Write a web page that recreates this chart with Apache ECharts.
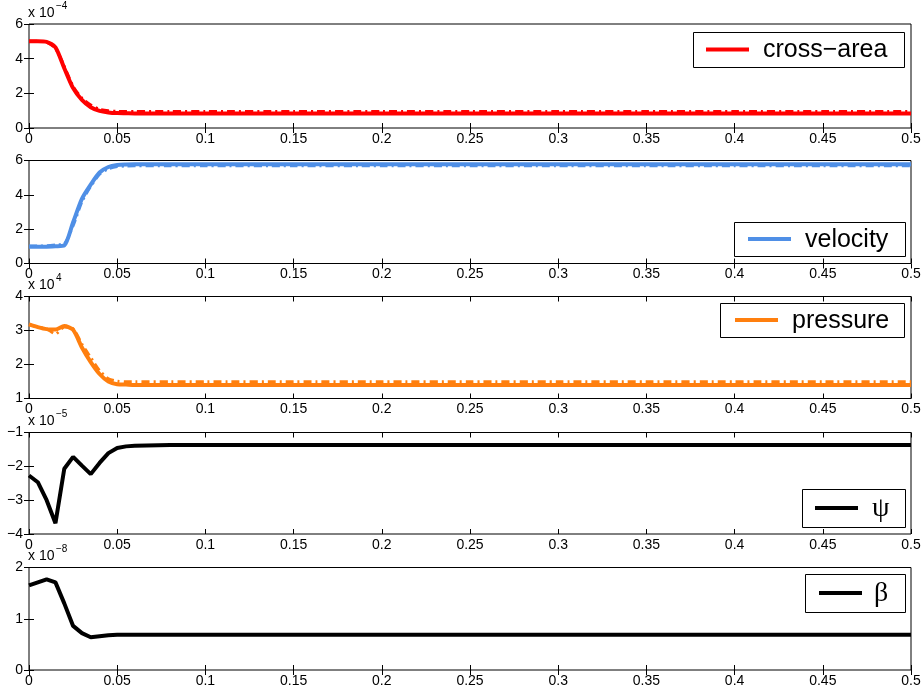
<!DOCTYPE html>
<html>
<head>
<meta charset="utf-8">
<script src="https://cdn.jsdelivr.net/npm/echarts@6/dist/echarts.min.js"></script>
<style>html,body{margin:0;padding:0;background:#fff}#c{width:924px;height:693px}</style>
</head>
<body>
<div id="c"></div>
<script>
// time samples (s)
var time = [0, 0.005, 0.01, 0.015, 0.02, 0.025, 0.03, 0.035, 0.04, 0.045, 0.05, 0.055, 0.06, 0.08, 0.1, 0.15, 0.2, 0.25, 0.3, 0.35, 0.4, 0.45, 0.5];
// cross-area (x 1e-4)
var crossArea      = [5.0, 5.0, 4.97, 4.65, 3.45, 2.3, 1.62, 1.2, 0.99, 0.9, 0.86, 0.85, 0.84, 0.84, 0.84, 0.84, 0.84, 0.84, 0.84, 0.84, 0.84, 0.84, 0.84];
var crossAreaRef   = [5.0, 5.0, 4.95, 4.6, 3.55, 2.4, 1.72, 1.32, 1.08, 0.99, 0.96, 0.95, 0.95, 0.95, 0.95, 0.95, 0.95, 0.95, 0.95, 0.95, 0.95, 0.95, 0.95];
// velocity
var velocity       = [0.97, 0.97, 0.98, 1.0, 1.05, 2.4, 3.77, 4.6, 5.3, 5.62, 5.74, 5.77, 5.78, 5.78, 5.78, 5.78, 5.78, 5.78, 5.78, 5.78, 5.78, 5.78, 5.78];
var velocityRef    = [1.02, 1.02, 1.03, 1.08, 1.15, 2.2, 3.6, 4.5, 5.2, 5.52, 5.65, 5.68, 5.69, 5.69, 5.69, 5.69, 5.69, 5.69, 5.69, 5.69, 5.69, 5.69, 5.69];
// pressure (x 1e4)
var pressure       = [3.18, 3.1, 3.04, 3.03, 3.13, 3.02, 2.5, 2.07, 1.72, 1.5, 1.42, 1.41, 1.4, 1.4, 1.4, 1.4, 1.4, 1.4, 1.4, 1.4, 1.4, 1.4, 1.4];
var pressureRef    = [3.18, 3.1, 3.05, 2.9, 3.1, 3.05, 2.6, 2.2, 1.82, 1.58, 1.51, 1.49, 1.49, 1.49, 1.49, 1.49, 1.49, 1.49, 1.49, 1.49, 1.49, 1.49, 1.49];
// psi (x 1e-5)
var psi            = [-2.27, -2.47, -3.0, -3.68, -2.07, -1.72, -1.98, -2.23, -1.9, -1.61, -1.46, -1.41, -1.39, -1.37, -1.37, -1.37, -1.37, -1.37, -1.37, -1.37, -1.37, -1.37, -1.37];
// beta (x 1e-8)
var beta           = [1.65, 1.71, 1.77, 1.71, 1.30, 0.86, 0.72, 0.64, 0.66, 0.68, 0.69, 0.69, 0.69, 0.69, 0.69, 0.69, 0.69, 0.69, 0.69, 0.69, 0.69, 0.69, 0.69];

var names = ['cross\u2212area', 'velocity', 'pressure', '\u03C8', '\u03B2'];
var colors = ['#ff0000', '#4f8fe6', '#ff7f0e', '#000000', '#000000'];
var yMin = [0, 0, 1, -4, 0];
var yMax = [6, 6, 4, -1, 2];
var yInterval = [2, 2, 1, 1, 1];
var exponents = ['\u22124', '', '4', '\u22125', '\u22128'];

var gridTop = [24, 160.5, 296.5, 432.5, 567.5];
var gridH = [104, 103, 102, 101.5, 102.5];

function pairs(ys) { return time.map(function (t, i) { return [t, ys[i]]; }); }

var font = 'Liberation Sans, Arial, Helvetica, sans-serif';
var grids = [], xAxes = [], yAxes = [], series = [], graphics = [];

for (var k = 0; k < 5; k++) {
  grids.push({ left: 29, right: 13, top: gridTop[k], height: gridH[k], show: true, borderColor: '#000', borderWidth: 1, backgroundColor: '#fff', containLabel: false });
  var xBase = {
    gridIndex: k, type: 'value', min: 0, max: 0.5, interval: 0.05,
    axisLine: { show: false }, splitLine: { show: false },
    axisTick: { inside: true, length: 5, lineStyle: { color: '#000' } }
  };
  xAxes.push(Object.assign({}, xBase, {
    position: 'bottom',
    axisLabel: { color: '#000', fontSize: 14, fontFamily: font, margin: 4, showMaxLabel: true, showMinLabel: true,
      formatter: function (v) { return String(+v.toFixed(2)); } }
  }));
  xAxes.push(Object.assign({}, xBase, { position: 'top', axisLabel: { show: false } }));
  var yBase = {
    gridIndex: k, type: 'value', min: yMin[k], max: yMax[k], interval: yInterval[k],
    axisLine: { show: false }, splitLine: { show: false },
    axisTick: { inside: true, length: 5, lineStyle: { color: '#000' } }
  };
  yAxes.push(Object.assign({}, yBase, {
    position: 'left',
    axisLabel: { color: '#000', fontSize: 14, fontFamily: font, margin: 6,
      formatter: function (v) { return String(v).replace('-', '\u2212'); } }
  }));
  yAxes.push(Object.assign({}, yBase, { position: 'right', axisLabel: { show: false } }));
  if (exponents[k]) {
    graphics.push({ type: 'text', left: 28, top: gridTop[k] - 18, z: 50,
      style: { text: 'x 10', fill: '#000', font: '14px ' + font } });
    graphics.push({ type: 'text', left: 56, top: gridTop[k] - 23, z: 50,
      style: { text: exponents[k], fill: '#000', font: '10px ' + font } });
  }
}

var lw = 4;
// dash-dot reference curves
[[crossAreaRef, 0], [velocityRef, 1], [pressureRef, 2]].forEach(function (p) {
  var k = p[1];
  series.push({ type: 'line', name: names[k] + ' ref', xAxisIndex: 2 * k, yAxisIndex: 2 * k, data: pairs(p[0]),
    showSymbol: false, symbol: 'none', smooth: 0.25, lineStyle: { color: colors[k], width: 3, type: [8, 4, 2, 4] }, z: 2 });
});
[crossArea, velocity, pressure, psi, beta].forEach(function (ys, k) {
  series.push({ type: 'line', name: names[k], xAxisIndex: 2 * k, yAxisIndex: 2 * k, data: pairs(ys),
    showSymbol: false, symbol: 'none', smooth: k < 3 ? 0.25 : false, lineStyle: { color: colors[k], width: lw }, z: 3 });
});

// legend boxes
var boxes = [
  { x: 693, y: 32, w: 211, h: 35, lx: 13, tx: 70, serif: false },
  { x: 734, y: 222, w: 171, h: 34, lx: 14, tx: 71, serif: false },
  { x: 720, y: 303, w: 184, h: 34, lx: 15, tx: 72, serif: false },
  { x: 802, y: 489, w: 103, h: 38, lx: 13, tx: 70, serif: true },
  { x: 805, y: 574, w: 100, h: 38, lx: 14, tx: 69, serif: true }
];
boxes.forEach(function (b, k) {
  graphics.push({
    type: 'group', left: b.x, top: b.y, z: 100,
    children: [
      { type: 'rect', shape: { x: 0.5, y: 0.5, width: b.w, height: b.h }, style: { fill: '#fff', stroke: '#000', lineWidth: 1 } },
      { type: 'line', shape: { x1: b.lx, y1: b.h / 2, x2: b.lx + 43, y2: b.h / 2 }, style: { stroke: colors[k], lineWidth: 4 } },
      { type: 'text', x: b.tx, y: b.h / 2 + 1, style: { text: names[k], fill: '#000', font: (b.serif ? '28px "Liberation Serif", serif' : '25px ' + font), verticalAlign: 'middle', align: 'left' } }
    ]
  });
});

var chart = echarts.init(document.getElementById('c'), null, { renderer: 'canvas' });
chart.setOption({
  backgroundColor: '#fff',
  animation: false,
  grid: grids,
  xAxis: xAxes,
  yAxis: yAxes,
  series: series,
  graphic: graphics
});
</script>
</body>
</html>
